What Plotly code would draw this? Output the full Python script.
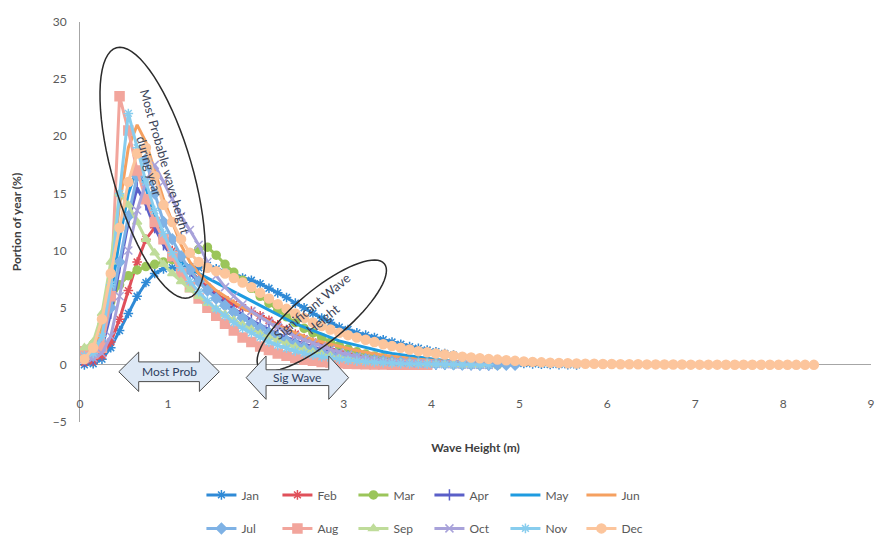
import math
import plotly.graph_objects as go

# ---------------- data ----------------
WAVE_HEIGHT = [0.05, 0.15, 0.25, 0.35, 0.45, 0.55, 0.65, 0.75, 0.85, 0.95,
               1.05, 1.15, 1.25, 1.35, 1.45, 1.55, 1.65, 1.75, 1.85, 1.95,
               2.05, 2.15, 2.25, 2.35, 2.45, 2.55, 2.65, 2.75, 2.85, 2.95,
               3.05, 3.15, 3.25, 3.35, 3.45, 3.55, 3.65, 3.75, 3.85, 3.95,
               4.05, 4.15, 4.25, 4.35, 4.45, 4.55, 4.65, 4.75, 4.85, 4.95,
               5.05, 5.15, 5.25, 5.35, 5.45, 5.55, 5.65, 5.75, 5.85, 5.95,
               6.05, 6.15, 6.25, 6.35, 6.45, 6.55, 6.65, 6.75, 6.85, 6.95,
               7.05, 7.15, 7.25, 7.35, 7.45, 7.55, 7.65, 7.75, 7.85, 7.95,
               8.05, 8.15, 8.25, 8.35]

MONTHS = ["Jan", "Feb", "Mar", "Apr", "May", "Jun",
          "Jul", "Aug", "Sep", "Oct", "Nov", "Dec"]

jan = [0.0, 0.1, 0.5, 1.5, 3.0, 4.5, 6.0, 7.2, 8.0, 8.4, 8.5, 8.4, 8.6, 8.5, 8.7,
       8.4, 8.1, 7.9, 7.6, 7.4, 7.1, 6.7, 6.3, 5.9, 5.4, 5.0, 4.5, 4.1, 3.7, 3.3,
       3.1, 2.8, 2.6, 2.4, 2.2, 2.0, 1.8, 1.6, 1.45, 1.3, 1.15, 1.0, 0.85, 0.7,
       0.58, 0.47, 0.37, 0.29, 0.22, 0.16, 0.12, 0.08, 0.05, 0.03, 0.02, 0.01, 0.0]
feb = [0.2, 0.3, 0.8, 2.0, 4.0, 6.5, 9.0, 11.0, 12.0, 11.0, 10.0, 9.0, 8.2, 7.5,
       6.8, 6.2, 5.7, 5.3, 5.0, 4.7, 4.3, 3.9, 3.5, 3.1, 2.7, 2.3, 2.0, 1.7, 1.4,
       1.2, 1.0, 0.82, 0.67, 0.54, 0.43, 0.34, 0.27, 0.21, 0.16, 0.12, 0.09, 0.07,
       0.05, 0.03, 0.02, 0.01, 0.0]
mar = [1.0, 1.8, 3.5, 5.5, 7.0, 7.8, 8.3, 8.6, 8.8, 9.0, 9.2, 9.5, 9.8, 10.1,
       10.3, 9.6, 8.8, 8.1, 7.4, 6.7, 6.0, 5.4, 4.8, 4.2, 3.7, 3.2, 2.8, 2.4, 2.0,
       1.7, 1.4, 1.15, 0.95, 0.78, 0.63, 0.5, 0.4, 0.31, 0.24, 0.18, 0.13, 0.1,
       0.07, 0.05, 0.03, 0.02, 0.01, 0.0]
apr = [0.3, 0.5, 1.5, 4.5, 8.5, 12.5, 15.5, 14.0, 12.0, 10.5, 9.5, 8.7, 8.0, 7.3,
       6.6, 6.0, 5.4, 4.9, 4.4, 3.9, 3.5, 3.1, 2.7, 2.4, 2.1, 1.8, 1.55, 1.3, 1.1,
       0.9, 0.75, 0.62, 0.5, 0.4, 0.32, 0.25, 0.2, 0.15, 0.12, 0.09, 0.07, 0.05,
       0.04, 0.03, 0.02, 0.01, 0.0]
may = [0.5, 0.8, 2.5, 6.0, 11.0, 15.0, 17.2, 15.5, 13.0, 11.0, 9.8, 9.0, 8.4, 8.0,
       7.6, 7.2, 6.8, 6.4, 6.0, 5.6, 5.2, 4.8, 4.4, 4.0, 3.6, 3.3, 3.0, 2.7, 2.4,
       2.1, 1.9, 1.7, 1.5, 1.3, 1.15, 1.0, 0.88, 0.76, 0.65, 0.55, 0.46, 0.38,
       0.31, 0.25, 0.2, 0.16, 0.12, 0.09, 0.07, 0.05, 0.04, 0.03, 0.02, 0.01,
       0.01, 0.0]
jun = [1.5, 1.2, 3.0, 7.5, 14.0, 19.0, 21.0, 19.5, 17.0, 14.5, 12.5, 10.5, 9.0,
       8.0, 7.2, 6.5, 6.0, 5.5, 5.0, 4.6, 4.2, 3.8, 3.4, 3.1, 2.8, 2.5, 2.2, 2.0,
       1.8, 1.6, 1.4, 1.25, 1.1, 0.95, 0.85, 0.75, 0.65, 0.55, 0.48, 0.42, 0.36,
       0.3, 0.26, 0.22, 0.19, 0.16, 0.13, 0.11, 0.09, 0.08, 0.06, 0.05, 0.04,
       0.03, 0.02, 0.02, 0.01, 0.01, 0.0, 0.0]
jul = [1.0, 0.8, 2.0, 5.0, 9.0, 13.0, 16.5, 18.0, 15.0, 12.5, 11.0, 9.5, 8.3, 7.3,
       6.5, 5.8, 5.2, 4.6, 4.1, 3.6, 3.2, 2.8, 2.4, 2.1, 1.8, 1.55, 1.3, 1.1, 0.95,
       0.8, 0.68, 0.57, 0.48, 0.4, 0.33, 0.27, 0.22, 0.18, 0.14, 0.11, 0.09, 0.07,
       0.05, 0.04, 0.03, 0.02, 0.02, 0.01, 0.01, 0.0]
aug = [1.2, 1.0, 1.5, 6.0, 23.5, 20.5, 17.0, 14.5, 12.5, 11.0, 9.5, 8.0, 6.8, 5.8,
       5.0, 4.3, 3.6, 3.0, 2.4, 2.0, 1.6, 1.3, 1.0, 0.8, 0.6, 0.45, 0.35, 0.25,
       0.2, 0.15, 0.1, 0.08, 0.05, 0.04, 0.03, 0.02, 0.02, 0.01, 0.01, 0.0]
sep = [1.5, 2.0, 4.5, 9.0, 15.0, 14.0, 12.5, 11.0, 9.8, 8.8, 8.0, 7.3, 6.6, 6.0,
       5.4, 4.9, 4.4, 3.9, 3.5, 3.1, 2.7, 2.4, 2.1, 1.8, 1.55, 1.3, 1.1, 0.92,
       0.78, 0.65, 0.54, 0.45, 0.37, 0.3, 0.24, 0.19, 0.15, 0.12, 0.09, 0.07, 0.05,
       0.04, 0.03, 0.02, 0.01, 0.0]
oct_ = [0.5, 0.6, 1.0, 2.5, 6.0, 10.0, 13.5, 16.0, 17.5, 16.0, 14.5, 13.0, 11.8,
        10.5, 9.0, 7.8, 6.8, 6.0, 5.3, 4.7, 4.2, 3.7, 3.3, 2.9, 2.5, 2.2, 1.9, 1.6,
        1.35, 1.1, 0.9, 0.72, 0.58, 0.46, 0.36, 0.28, 0.22, 0.17, 0.13, 0.1, 0.07,
        0.05, 0.04, 0.03, 0.02, 0.01, 0.0]
nov = [0.8, 1.0, 2.5, 7.0, 15.0, 22.0, 19.0, 16.0, 13.5, 11.5, 9.8, 8.5, 7.3, 6.4,
       5.6, 4.9, 4.3, 3.7, 3.2, 2.8, 2.4, 2.0, 1.7, 1.45, 1.2, 1.0, 0.85, 0.7, 0.6,
       0.5, 0.4, 0.33, 0.27, 0.22, 0.18, 0.14, 0.11, 0.09, 0.07, 0.05, 0.04, 0.03,
       0.02, 0.02, 0.01, 0.01, 0.0]
dec = [0.5, 1.5, 4.0, 8.0, 12.0, 16.0, 18.5, 19.0, 16.5, 14.0, 12.5, 11.0, 9.8,
       9.0, 8.5, 8.2, 8.0, 7.6, 7.2, 6.8, 6.3, 5.8, 5.3, 4.9, 4.5, 4.1, 3.7, 3.4,
       3.1, 2.8, 2.6, 2.4, 2.2, 2.0, 1.8, 1.65, 1.5, 1.35, 1.2, 1.1, 1.0, 0.9, 0.8,
       0.72, 0.65, 0.58, 0.52, 0.46, 0.4, 0.35, 0.3, 0.26, 0.22, 0.19, 0.16, 0.14,
       0.12, 0.1, 0.09, 0.08, 0.07, 0.06, 0.05, 0.05, 0.04, 0.04, 0.03, 0.03, 0.03,
       0.02, 0.02, 0.02, 0.02, 0.01, 0.01, 0.01, 0.01, 0.01, 0.01, 0.01, 0.01, 0.0,
       0.0, 0.0]

SERIES = [jan, feb, mar, apr, may, jun, jul, aug, sep, oct_, nov, dec]

X_TICKS = [0, 1, 2, 3, 4, 5, 6, 7, 8, 9]
Y_TICKS = [-5, 0, 5, 10, 15, 20, 25, 30]

# ---------------- styles ----------------
STYLE = {
    "Jan": dict(color="#2F8AD6", symbol="asterisk-open", size=8),
    "Feb": dict(color="#E0505A", symbol="asterisk-open", size=8),
    "Mar": dict(color="#9BC55A", symbol="circle", size=8),
    "Apr": dict(color="#5A5FC8", symbol="line-ns-open", size=8),
    "May": dict(color="#1E9BE0", symbol=None, size=0),
    "Jun": dict(color="#F5A060", symbol=None, size=0),
    "Jul": dict(color="#7FB2E5", symbol="diamond", size=8),
    "Aug": dict(color="#F2A59C", symbol="square", size=9),
    "Sep": dict(color="#BFDC9A", symbol="triangle-up", size=8),
    "Oct": dict(color="#A8A2DA", symbol="x-thin-open", size=8),
    "Nov": dict(color="#88CDEE", symbol="asterisk-open", size=8),
    "Dec": dict(color="#FCC59C", symbol="circle", size=9),
}

FONT = "Lato, 'Open Sans', sans-serif"

fig = go.Figure()
for i, (m, vals) in enumerate(zip(MONTHS, SERIES)):
    st = STYLE[m]
    xs = WAVE_HEIGHT[:len(vals)]
    kw = dict(x=xs, y=vals, name=m, legend="legend" if i < 6 else "legend2",
              line=dict(color=st["color"], width=3))
    if st["symbol"] is None:
        kw["mode"] = "lines"
    else:
        kw["mode"] = "lines+markers"
        kw["marker"] = dict(symbol=st["symbol"], size=st["size"], color=st["color"],
                            line=dict(color=st["color"], width=1.5))
    fig.add_trace(go.Scatter(**kw))

# ---------------- pixel -> data helpers for the drawn callouts ----------------
PL, PR, PT, PB = 80, 875, 22, 428
XR = (0, 9)
YR = (-5, 30)


def dx(px):
    return XR[0] + (px - PL) / (PR - PL) * (XR[1] - XR[0])


def dy(py):
    return YR[1] - (py - PT) / (PB - PT) * (YR[1] - YR[0])


def ellipse_path(cx, cy, a, b, ang_deg, n=72):
    t = math.radians(ang_deg)
    ux, uy = math.cos(t), math.sin(t)
    vx, vy = -math.sin(t), math.cos(t)
    pts = []
    for k in range(n):
        s = 2 * math.pi * k / n
        px = cx + a * math.cos(s) * ux + b * math.sin(s) * vx
        py = cy + a * math.cos(s) * uy + b * math.sin(s) * vy
        pts.append((dx(px), dy(py)))
    return "M " + " L ".join(f"{x:.4f},{y:.4f}" for x, y in pts) + " Z"


def double_arrow_path(L, R, cy, hw, hh, bh):
    pts = [(L, cy), (L + hw, cy - hh), (L + hw, cy - bh), (R - hw, cy - bh),
           (R - hw, cy - hh), (R, cy), (R - hw, cy + hh), (R - hw, cy + bh),
           (L + hw, cy + bh), (L + hw, cy + hh)]
    return "M " + " L ".join(f"{dx(x):.4f},{dy(y):.4f}" for x, y in pts) + " Z"


shapes = [
    dict(type="path", xref="x", yref="y", layer="above",
         path=ellipse_path(153, 175, 132, 40, 74),
         line=dict(color="#2B2B2B", width=1.5), fillcolor="rgba(0,0,0,0)"),
    dict(type="path", xref="x", yref="y", layer="above",
         path=ellipse_path(323, 320, 82, 26, -40),
         line=dict(color="#2B2B2B", width=1.5), fillcolor="rgba(0,0,0,0)"),
    dict(type="path", xref="x", yref="y", layer="above",
         path=double_arrow_path(119, 220, 377, 20, 20, 10),
         line=dict(color="#4A4A4A", width=1), fillcolor="#DDE8F5"),
    dict(type="path", xref="x", yref="y", layer="above",
         path=double_arrow_path(247, 350, 383, 20, 22, 8),
         line=dict(color="#4A4A4A", width=1), fillcolor="#DDE8F5"),
]

annotations = [
    dict(x=dx(157), y=dy(166), xref="x", yref="y", showarrow=False,
         text="Most Probable wave height<br>during year", textangle=74,
         font=dict(family=FONT, size=12.5, color="#3C4458")),
    dict(x=dx(319), y=dy(317), xref="x", yref="y", showarrow=False,
         text="Significant Wave<br>Height", textangle=-40,
         font=dict(family=FONT, size=13, color="#3C4458")),
    dict(x=dx(170), y=dy(377), xref="x", yref="y", showarrow=False,
         text="Most Prob", font=dict(family=FONT, size=12, color="#2E3E60")),
    dict(x=dx(298), y=dy(383), xref="x", yref="y", showarrow=False,
         text="Sig Wave", font=dict(family=FONT, size=12, color="#2E3E60")),
]

LEG_X = (210 - PL) / (PR - PL) - 0.01
fig.update_layout(
    width=879, height=547,
    margin=dict(l=PL, r=879 - PR, t=PT, b=547 - PB),
    paper_bgcolor="white", plot_bgcolor="white",
    font=dict(family=FONT, size=12, color="#595959"),
    shapes=shapes, annotations=annotations,
    legend=dict(orientation="h", x=LEG_X, xanchor="left",
                y=(PB - 502) / (PB - PT), yanchor="middle", entrywidth=31,
                font=dict(family=FONT, size=12, color="#595959"),
                bgcolor="rgba(0,0,0,0)", tracegroupgap=0, itemwidth=30),
    legend2=dict(orientation="h", x=LEG_X, xanchor="left",
                 y=(PB - 536) / (PB - PT), yanchor="middle", entrywidth=31,
                 font=dict(family=FONT, size=12, color="#595959"),
                 bgcolor="rgba(0,0,0,0)", tracegroupgap=0, itemwidth=30),
    xaxis=dict(range=list(XR), tickvals=X_TICKS, showgrid=False, zeroline=False,
               showline=False, anchor="free", position=(PB - 401) / (PB - PT),
               ticks="", tickfont=dict(family=FONT, size=12, color="#595959"),
               title=dict(text="<b>Wave Height (m)</b>", standoff=33,
                          font=dict(family=FONT, size=12, color="#404040"))),
    yaxis=dict(range=list(YR), tickvals=Y_TICKS, showgrid=False, zeroline=True,
               zerolinecolor="#A6A6A6", zerolinewidth=1, showline=True,
               linecolor="#A6A6A6", linewidth=1, ticks="", ticklabelstandoff=10,
               tickfont=dict(family=FONT, size=12, color="#595959"),
               title=dict(text="<b>Portion of year (%)</b>", standoff=28,
                          font=dict(family=FONT, size=12, color="#404040"))),
)

fig.write_html("out.html", config={"displayModeBar": False},
               post_script="document.body.style.margin='0';")
